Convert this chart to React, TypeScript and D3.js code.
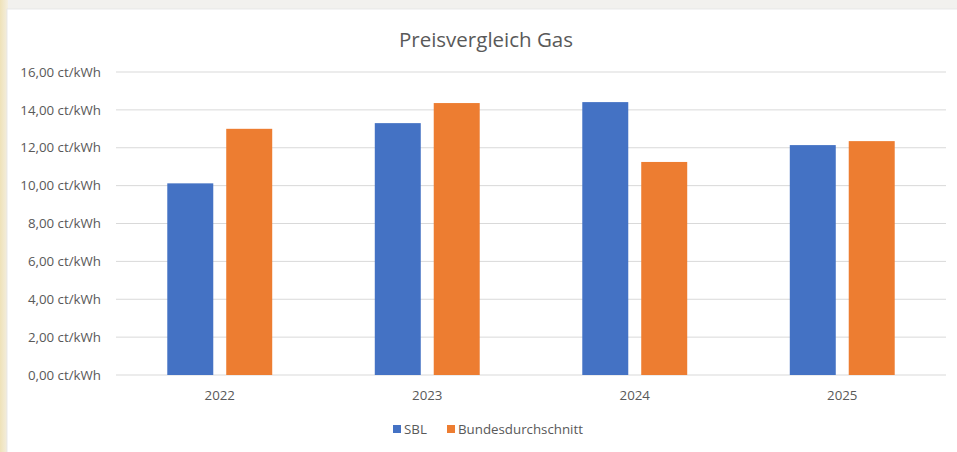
import React, { useEffect, useRef } from "react"
import * as d3 from "d3"

const years = ["2022", "2023", "2024", "2025"]
const seriesNames = ["SBL", "Bundesdurchschnitt"]
const sblValues = [10.12, 13.3, 14.41, 12.14]
const bundValues = [13.0, 14.36, 11.25, 12.35]
const seriesColors = ["#4472C4", "#ED7D31"]
const yTicks = [0, 2, 4, 6, 8, 10, 12, 14, 16]

const width = 957
const height = 452
const font = "'Open Sans', 'Liberation Sans', Arial, sans-serif"

function App() {
  const ref = useRef(null)

  useEffect(() => {
    document.body.style.margin = "0"
    const svg = d3.select(ref.current)
    svg.selectAll("*").remove()

    const defs = svg.append("defs")
    const grad = defs.append("linearGradient").attr("id", "leftEdge").attr("x1", 0).attr("x2", 1)
    grad.append("stop").attr("offset", "0%").attr("stop-color", "#efe2b8")
    grad.append("stop").attr("offset", "100%").attr("stop-color", "#f4efe2")

    svg.append("rect").attr("width", width).attr("height", height).attr("fill", "#f2f1ee")
    svg.append("rect").attr("width", 8).attr("height", height).attr("fill", "url(#leftEdge)")
    svg.append("rect").attr("x", 7).attr("y", 9).attr("width", width).attr("height", height)
      .attr("fill", "#ffffff").attr("stroke", "#e4e4e4").attr("stroke-width", 0.8)

    const plotLeft = 116
    const plotRight = 946
    const y = d3.scaleLinear().domain([0, 16]).range([375, 72])

    const x0 = d3.scaleBand().domain(years).range([plotLeft, plotRight]).padding(0)
    const x1 = d3.scaleBand().domain(seriesNames).range([0, x0.bandwidth()])
      .paddingInner(0.22).paddingOuter(0.87)

    // gridlines
    svg.append("g")
      .selectAll("line")
      .data(yTicks)
      .join("line")
      .attr("x1", plotLeft)
      .attr("x2", plotRight)
      .attr("y1", d => y(d))
      .attr("y2", d => y(d))
      .attr("stroke", "#d9d9d9")
      .attr("stroke-width", 1)

    // y labels
    svg.append("g")
      .attr("font-family", font)
      .attr("font-size", 13.3)
      .attr("fill", "#595959")
      .attr("text-anchor", "end")
      .selectAll("text")
      .data(yTicks)
      .join("text")
      .attr("x", 101)
      .attr("y", d => y(d))
      .attr("dy", "0.35em")
      .text(d => d.toFixed(2).replace(".", ",") + " ct/kWh")

    const data = years.map((yr, i) => ({ year: yr, values: [sblValues[i], bundValues[i]] }))

    svg.append("g")
      .selectAll("g")
      .data(data)
      .join("g")
      .attr("transform", d => `translate(${x0(d.year)},0)`)
      .selectAll("rect")
      .data(d => d.values.map((v, j) => ({ name: seriesNames[j], value: v, color: seriesColors[j] })))
      .join("rect")
      .attr("x", d => x1(d.name))
      .attr("width", x1.bandwidth())
      .attr("y", d => y(d.value))
      .attr("height", d => y(0) - y(d.value))
      .attr("fill", d => d.color)

    // x labels
    svg.append("g")
      .attr("font-family", font)
      .attr("font-size", 13.3)
      .attr("fill", "#595959")
      .attr("text-anchor", "middle")
      .selectAll("text")
      .data(years)
      .join("text")
      .attr("x", d => x0(d) + x0.bandwidth() / 2)
      .attr("y", 400)
      .text(d => d)

    // title
    svg.append("text")
      .attr("x", 486)
      .attr("y", 47)
      .attr("text-anchor", "middle")
      .attr("font-family", font)
      .attr("font-size", 20.5)
      .attr("fill", "#595959")
      .text("Preisvergleich Gas")

    // legend
    const legendItems = [
      { name: seriesNames[0], color: seriesColors[0], x: 393 },
      { name: seriesNames[1], color: seriesColors[1], x: 447 },
    ]
    const lg = svg.append("g").selectAll("g").data(legendItems).join("g")
      .attr("transform", d => `translate(${d.x},425)`)
    lg.append("rect").attr("width", 8).attr("height", 8).attr("fill", d => d.color)
    lg.append("text")
      .attr("x", 11)
      .attr("y", 4)
      .attr("dy", "0.35em")
      .attr("font-family", font)
      .attr("font-size", 13.3)
      .attr("fill", "#595959")
      .text(d => d.name)
  }, [])

  return (
    <div style={{ width: width, height: height }}>
      <svg ref={ref} width={width} height={height} style={{ display: "block" }} />
    </div>
  )
}

export default App
